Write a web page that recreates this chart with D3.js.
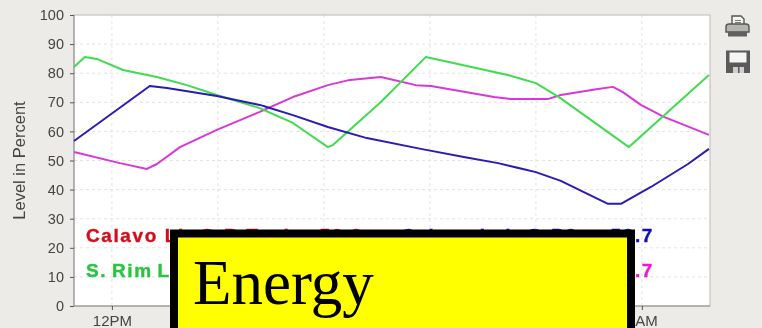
<!doctype html>
<html lang="en">
<head>
<meta charset="utf-8">
<title>Energy</title>
<script src="https://cdnjs.cloudflare.com/ajax/libs/d3/7.8.5/d3.min.js"></script>
<style>
	html, body { margin: 0; padding: 0; background: #ecebe8; overflow: hidden; }
	svg { display: block; }
	.axis text { font: 14.5px "Liberation Sans", sans-serif; fill: #444; }
	.axis path.domain { stroke: none; }
	.axis line { stroke: #555; }
	.grid line { stroke: #e3e3e3; stroke-dasharray: 3,3; }
	.legend text { font: bold 19px "Liberation Sans", sans-serif; letter-spacing: 1.6px; stroke-width: 0.4px; }
</style>
</head>
<body>
<div id="viz"></div>
<script>
// hours are counted from the 12PM tick, window runs a full 24 hours
var xDomain = [-1.43, 22.57];
var yTicks = [0, 10, 20, 30, 40, 50, 60, 70, 80, 90, 100];
var xTicks = [0, 4, 8, 12, 16, 20];
// the middle labels sit behind the yellow box and can't be read
var xTickLabels = ["12PM", "", "", "", "", "8AM"];

var greenHours = [-1.43, -1.02, -0.57, 0.42, 1.7, 2.83, 3.96, 5.58, 6.83, 8.15, 8.34, 10.15, 11.85, 14.94, 16.0, 16.87, 19.51, 22.53];
var greenLevels = [82.1, 85.6, 84.9, 81.1, 78.7, 75.9, 72.5, 68.0, 62.9, 54.6, 55.3, 70.1, 85.6, 79.4, 76.6, 71.8, 54.6, 79.4];

var blueHours = [-1.43, 1.43, 2.08, 3.96, 5.58, 6.83, 8.15, 9.62, 11.66, 13.28, 14.57, 16.0, 16.94, 18.72, 19.21, 20.34, 21.74, 22.53];
var blueLevels = [56.7, 75.6, 74.9, 72.2, 69.1, 65.6, 61.5, 57.7, 54.0, 51.2, 49.1, 46.0, 43.0, 35.1, 35.1, 40.9, 48.8, 54.0];

var pinkHours = [-1.43, 0.3, 1.32, 1.7, 2.57, 3.96, 5.58, 6.83, 8.15, 8.98, 10.15, 11.47, 12.04, 14.42, 15.06, 16.45, 16.94, 18.34, 18.91, 19.28, 19.96, 20.83, 22.53];
var pinkLevels = [52.9, 49.1, 47.1, 48.8, 54.6, 60.5, 66.7, 71.8, 75.9, 77.7, 78.7, 75.9, 75.6, 71.8, 71.1, 71.1, 72.5, 74.6, 75.3, 73.5, 69.1, 65.0, 58.8];

var legendNames = ["Calavo Lk @ R Tanks", "Calavo Lak @ P3", "S. Rim L", "Calavo Lak @ P4"];
var legendValues = ["50.8", "53.7", "", "58.7"];
var legendColors = ["#d2111f", "#1010c8", "#2bc442", "#ee14d8"];

var w = 762, h = 328;
var margin = {top: 15, right: 52, bottom: 22, left: 74};
var width = w - margin.left - margin.right,
	height = h - margin.top - margin.bottom;

var xScale = d3.scaleLinear().domain(xDomain).range([0, width]);
var yScale = d3.scaleLinear().domain([0, 100]).range([height, 0]);

var mySVG = d3.select("#viz").append("svg")
	.attr("width", w)
	.attr("height", h);

var defs = mySVG.append("defs");
defs.append("filter").attr("id", "soft")
	.attr("x", "-5%").attr("y", "-5%").attr("width", "110%").attr("height", "110%")
	.append("feGaussianBlur").attr("stdDeviation", 0.45);

var page = mySVG.append("g").attr("filter", "url(#soft)");
var chart = page.append("g").attr("transform", "translate(" + margin.left + "," + margin.top + ")");

chart.append("rect")
	.attr("width", width)
	.attr("height", height)
	.style("fill", "#fff");

// grid
chart.append("g").attr("class", "grid")
	.selectAll("line").data(yTicks.slice(1, -1)).enter().append("line")
	.attr("x1", 0).attr("x2", width)
	.attr("y1", d => yScale(d)).attr("y2", d => yScale(d));
chart.append("g").attr("class", "grid")
	.selectAll("line").data(xTicks).enter().append("line")
	.attr("x1", d => xScale(d)).attr("x2", d => xScale(d))
	.attr("y1", 0).attr("y2", height);

// frame
chart.append("rect")
	.attr("width", width)
	.attr("height", height)
	.style("fill", "none")
	.style("stroke", "#b9b9b4");
chart.append("path")
	.attr("d", "M0,0V" + height + "H" + width)
	.style("fill", "none")
	.style("stroke", "#8e8e8e");

// axes
chart.append("g").attr("class", "axis")
	.call(d3.axisLeft(yScale).tickValues(yTicks).tickSize(4).tickPadding(6));
var xAxis = chart.append("g").attr("class", "axis")
	.attr("transform", "translate(0," + height + ")")
	.call(d3.axisBottom(xScale).tickValues(xTicks).tickSize(4).tickPadding(5)
		.tickFormat((d, i) => xTickLabels[i]));
xAxis.selectAll("text").style("font-size", "15px");

page.append("text")
	.attr("transform", "translate(24.5,160.5)rotate(-90)")
	.attr("text-anchor", "middle")
	.style("font", "16.5px 'Liberation Sans', sans-serif")
	.style("fill", "#444")
	.text("Level in Percent");

// series
var line = d3.line().x(d => xScale(d[0])).y(d => yScale(d[1]));
var series = [
	{hours: pinkHours, levels: pinkLevels, color: "#d838d8"},
	{hours: greenHours, levels: greenLevels, color: "#3fdc4e"},
	{hours: blueHours, levels: blueLevels, color: "#2a1cb4"}
];
chart.selectAll("path.series").data(series).enter().append("path")
	.attr("class", "series")
	.attr("d", d => line(d3.zip(d.hours, d.levels)))
	.style("fill", "none")
	.style("stroke", d => d.color)
	.style("stroke-linejoin", "round")
	.style("stroke-width", 2);

// legend, mostly covered by the yellow box
var legendX = [86, 401], legendEnd = [363, 654], legendY = [242, 277];
var legend = page.append("g").attr("class", "legend");
legendNames.forEach(function(name, i) {
	var col = i % 2, row = Math.floor(i / 2);
	legend.append("text")
		.attr("x", legendX[col]).attr("y", legendY[row])
		.style("fill", legendColors[i])
		.style("stroke", legendColors[i])
		.style("word-spacing", i == 2 ? "-2px" : null)
		.text(name);
	legend.append("text")
		.attr("x", legendEnd[col]).attr("y", legendY[row])
		.attr("text-anchor", "end")
		.style("fill", legendColors[i])
		.style("stroke", legendColors[i])
		.text(legendValues[i]);
});

// printer icon
var printer = page.append("g").attr("transform", "translate(726,15)");
printer.append("path").attr("d", "M6,1H15L18,4V11H6Z")
	.style("fill", "#f4f4f2").style("stroke", "#555").style("stroke-width", 1.4);
printer.append("path").attr("d", "M9,5.5H15M9,7.5H15")
	.style("stroke", "#777").style("fill", "none");
printer.append("path").attr("d", "M3,9H20Q23,9 23,12V17H0V12Q0,9 3,9Z")
	.style("fill", "#b4b4b0").style("stroke", "#555").style("stroke-width", 1.4);
printer.append("rect").attr("x", 2).attr("y", 17).attr("width", 19).attr("height", 4.5)
	.style("fill", "#606060");

// save icon
var disk = page.append("g").attr("transform", "translate(726,50.5)");
disk.append("rect").attr("width", 24).attr("height", 22.5).style("fill", "#5a5a5a");
disk.append("rect").attr("x", 3.5).attr("y", 2).attr("width", 17).attr("height", 10).style("fill", "#f6f6f4");
disk.append("rect").attr("x", 7).attr("y", 16.5).attr("width", 11).attr("height", 6).style("fill", "#d0d0cc");
disk.append("rect").attr("x", 12).attr("y", 16.5).attr("width", 1.5).attr("height", 6).style("fill", "#5a5a5a");

// yellow box on top, runs off the bottom of the page
mySVG.append("rect")
	.attr("x", 174).attr("y", 233.5)
	.attr("width", 457).attr("height", 120)
	.style("fill", "#ffff00")
	.style("stroke", "#000")
	.style("stroke-width", 8);
mySVG.append("text")
	.attr("x", 193).attr("y", 304)
	.style("font", "63px 'Liberation Serif', serif")
	.style("fill", "#000")
	.text("Energy");
</script>
</body>
</html>
